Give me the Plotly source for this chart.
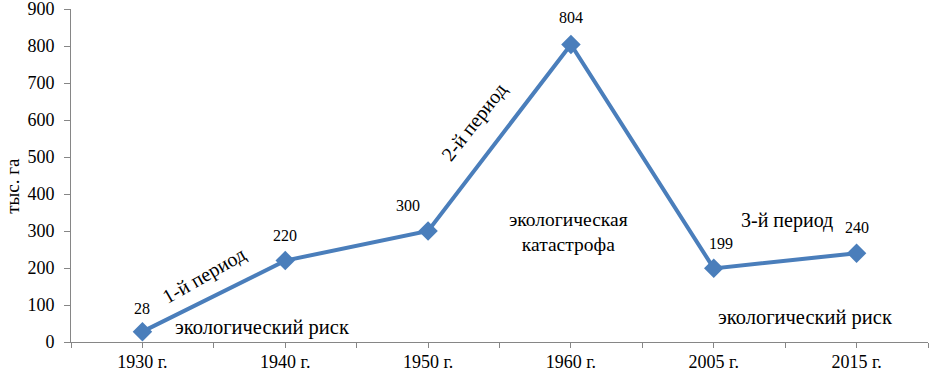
import plotly.graph_objects as go

categories = ["1930 г.", "1940 г.", "1950 г.", "1960 г.", "2005 г.", "2015 г."]
values = [28, 220, 300, 804, 199, 240]
y_ticks = [0, 100, 200, 300, 400, 500, 600, 700, 800, 900]

xs = list(range(len(categories)))
FONT = "Liberation Serif, DejaVu Serif, serif"
COLOR = "#4A7EBB"

fig = go.Figure()
fig.add_trace(go.Scatter(
    x=xs, y=values, mode="lines+markers",
    line=dict(color=COLOR, width=4),
    marker=dict(symbol="diamond", size=15, color=COLOR),
    showlegend=False, hoverinfo="skip"))

# data labels
label_pos = [(0, 91), (1, 287), (1.86, 368), (3, 876), (4.05, 266), (5, 309)]
for v, (lx, ly) in zip(values, label_pos):
    fig.add_annotation(x=lx, y=ly, text=str(v), showarrow=False,
                       font=dict(family=FONT, size=16, color="black"))

texts = [
    ("1-й период", 0.434, 180, -30, 20),
    ("2-й период", 2.32, 594, -52, 20),
    ("3-й период", 4.51, 328, 0, 20),
    ("экологический риск", 0.835, 40, 0, 20.5),
    ("экологический риск", 4.64, 67, 0, 20.5),
    ("экологическая<br>катастрофа", 2.98, 298, 0, 19.5),
]
for t, tx, ty, ang, sz in texts:
    fig.add_annotation(x=tx, y=ty, text=t, showarrow=False, textangle=ang,
                       font=dict(family=FONT, size=sz, color="black"))

fig.add_annotation(xref="paper", yref="paper", x=-0.083, y=0.47, text="тыс. га",
                   showarrow=False, textangle=-90, xanchor="left",
                   font=dict(family=FONT, size=19, color="black"))

fig.update_layout(
    width=930, height=371,
    margin=dict(l=71, r=2, t=9, b=29),
    plot_bgcolor="white", paper_bgcolor="white",
    font=dict(family=FONT, size=18, color="black"),
    xaxis=dict(range=[-0.5, 5.5], tickvals=xs, ticktext=categories,
               showgrid=False, zeroline=False, showline=True, automargin=False,
               linecolor="#868686", linewidth=1, ticks="outside",
               ticklen=5, tickcolor="#868686", ticklabeloverflow="allow",
               ticklabelstandoff=-2,
               minor=dict(dtick=0.5, tick0=0.5, ticks="outside", ticklen=5,
                          tickcolor="#868686", showgrid=False)),
    yaxis=dict(range=[0, 900], tickvals=y_ticks, showgrid=False, automargin=False,
               zeroline=False, showline=True, linecolor="#868686",
               linewidth=1, ticks="outside", ticklen=6, tickcolor="#868686",
               ticklabeloverflow="allow", ticklabelstandoff=6),
)

fig.write_html("out.html", config={"displayModeBar": False},
               post_script="document.body.style.margin='0';")
